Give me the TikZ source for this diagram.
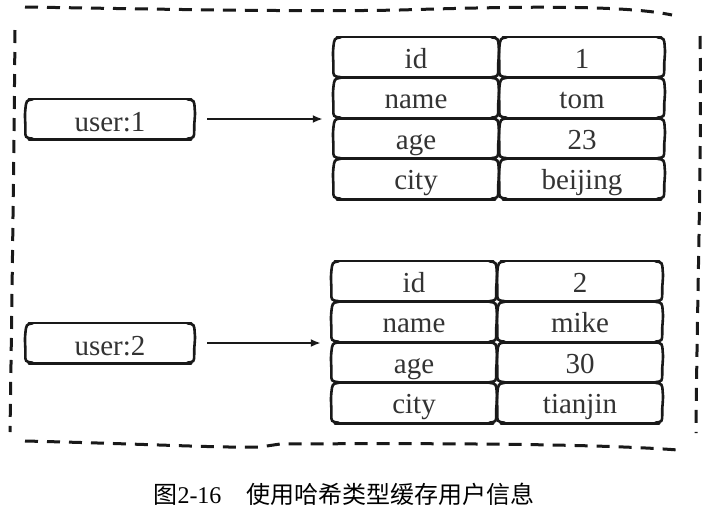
\documentclass[tikz,border=0pt]{standalone}
\usepackage{fontspec}
\setmainfont{Liberation Serif}
\newfontfamily\cjk{Noto Sans CJK SC}
\usetikzlibrary{arrows.meta}
\newcommand\handbox[1]{%
  \draw[pen] ([xshift=2pt]#1.north west) -- ([xshift=-2pt]#1.north east);
  \draw[pen] ([xshift=2pt]#1.south west) -- ([xshift=-2pt]#1.south east);
  \draw[pen] ([shift={(6pt,-0.5pt)}]#1.north west) .. controls ([shift={(-0.5pt,-1.5pt)}]#1.north west) .. ([shift={(-1.5pt,-11pt)}]#1.north west)
     .. controls ([shift={(-2.5pt,-18pt)}]#1.north west) and ([shift={(-1pt,16pt)}]#1.south west) .. ([shift={(-1.5pt,9pt)}]#1.south west)
     .. controls ([shift={(-1.5pt,1.5pt)}]#1.south west) .. ([shift={(6pt,0.5pt)}]#1.south west);
  \draw[pen] ([shift={(-6pt,-0.5pt)}]#1.north east) .. controls ([shift={(1pt,-1.5pt)}]#1.north east) .. ([shift={(1.5pt,-10pt)}]#1.north east)
     .. controls ([shift={(2.5pt,-18pt)}]#1.north east) and ([shift={(0.5pt,16pt)}]#1.south east) .. ([shift={(1pt,9pt)}]#1.south east)
     .. controls ([shift={(1pt,1.5pt)}]#1.south east) .. ([shift={(-6pt,0.5pt)}]#1.south east);
}
\begin{document}
\begin{tikzpicture}[x=1pt,y=1pt,
  pen/.style={line width=2.6pt, line cap=round, color=black!90},
  border/.style={line width=3pt, dash pattern=on 13pt off 9pt, color=black!90},
  cellbox/.style={minimum width=162pt, minimum height=40.5pt, inner sep=0pt,
     text height=26pt, text depth=4pt, font=\fontsize{29}{34}\selectfont, text=black!80},
  keybox/.style={cellbox, minimum width=166pt, minimum height=40pt, text height=27pt, text depth=3pt},
  arr/.style={line width=2.2pt, color=black!90, -{Latex[length=10pt,width=8pt]}}]
\useasboundingbox[fill=white] (0,0) rectangle (714,-515);

% outer dashed frame
\draw[border] (25,-7) .. controls (150,-9) and (300,-12) .. (400,-10) .. controls (500,-7) and (620,-4) .. (672,-15);
\draw[border] (700,-36) .. controls (702,-150) and (697,-300) .. (696,-433);
\draw[border] (15,-30) .. controls (14,-150) and (12,-300) .. (10,-432);
\draw[border] (25,-441) .. controls (150,-444) and (220,-448) .. (260,-447) -- (280,-444) .. controls (450,-443) and (600,-444) .. (678,-450);

% keys
\node[keybox] (u1) at (110,-119) {user:1};
\node[keybox] (u2) at (110,-343) {user:2};

% table 1
\node[cellbox] (k11) at (416,-57.25)  {id};
\node[cellbox] (k12) at (416,-97.75)  {name};
\node[cellbox] (k13) at (416,-138.25) {age};
\node[cellbox] (k14) at (416,-178.75) {city};
\node[cellbox] (v11) at (582,-57.25)  {1};
\node[cellbox] (v12) at (582,-97.75)  {tom};
\node[cellbox] (v13) at (582,-138.25) {23};
\node[cellbox] (v14) at (582,-178.75) {beijing};

% table 2
\node[cellbox] (k21) at (414,-281.25) {id};
\node[cellbox] (k22) at (414,-321.75) {name};
\node[cellbox] (k23) at (414,-362.25) {age};
\node[cellbox] (k24) at (414,-402.75) {city};
\node[cellbox] (v21) at (580,-281.25) {2};
\node[cellbox] (v22) at (580,-321.75) {mike};
\node[cellbox] (v23) at (580,-362.25) {30};
\node[cellbox] (v24) at (580,-402.75) {tianjin};

\foreach \n in {u1,u2,k11,k12,k13,k14,v11,v12,v13,v14,k21,k22,k23,k24,v21,v22,v23,v24}{\handbox{\n}}

% arrows
\draw[arr] ([xshift=14pt]u1.east) -- ([xshift=-12pt]u1.east -| k12.south west);
\draw[arr] ([xshift=14pt]u2.east) -- ([xshift=-12pt]u2.east -| k22.south west);

% caption
\node[inner sep=0pt, font=\fontsize{24}{28}\selectfont] (cap) at (344,-494)
  {{\cjk 图}2-16\hspace{25pt}{\cjk 使用哈希类型缓存用户信息}};
\end{tikzpicture}
\end{document}
